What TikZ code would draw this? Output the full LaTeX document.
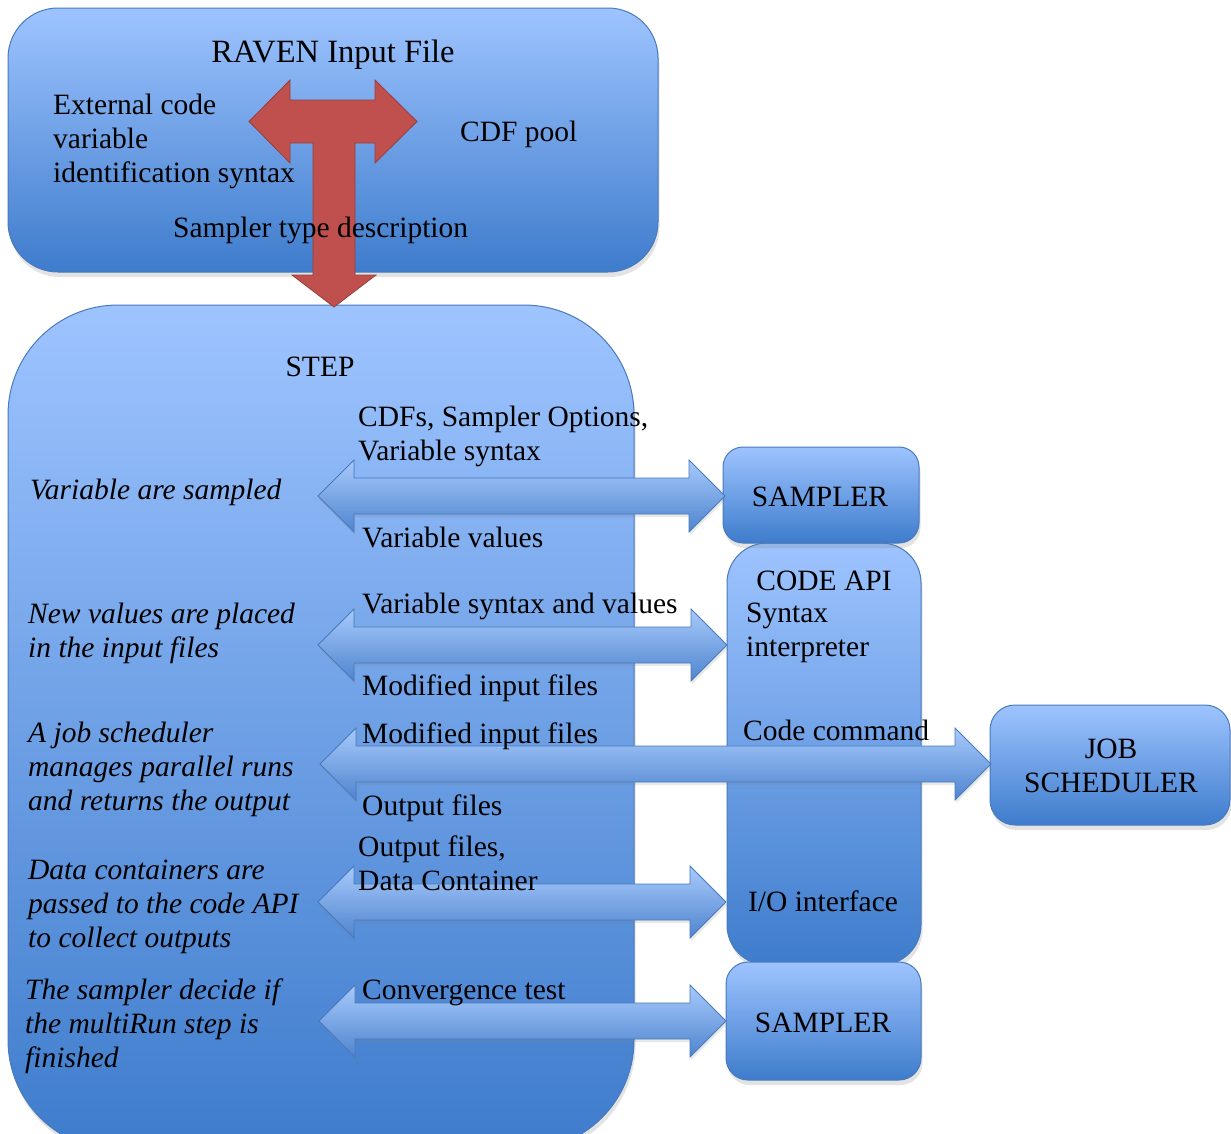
\documentclass[tikz,border=0pt]{standalone}
\usepackage{fontspec}
\setmainfont{Liberation Serif}
\usetikzlibrary{shadows}
\definecolor{boxtop}{RGB}{158,196,255}
\definecolor{boxbot}{RGB}{62,124,204}
\definecolor{boxline}{RGB}{72,122,188}
\definecolor{arrtop}{RGB}{168,202,252}
\definecolor{arrbot}{RGB}{78,132,206}
\definecolor{redfill}{RGB}{192,80,77}
\definecolor{redline}{RGB}{150,62,60}
\tikzset{
  box/.style={draw=boxline, line width=1pt, top color=boxtop, bottom color=boxbot,
    drop shadow={opacity=0.22, shadow xshift=1.5pt, shadow yshift=-5pt}},
  blockarr/.style={draw=boxline, line width=0.8pt, top color=arrtop, bottom color=arrbot,
    drop shadow={opacity=0.18, shadow xshift=1pt, shadow yshift=-3pt}},
  lbl/.style={inner sep=0pt, font=\fontsize{29.5}{34}\selectfont, align=left, text=black},
  ilbl/.style={inner sep=0pt, font=\fontsize{29.5}{34}\selectfont\itshape, align=left, text=black},
  clbl/.style={inner sep=0pt, font=\fontsize{29.5}{34}\selectfont, align=center, text=black},
}
% #1 left tip x, #2 right tip x, #3 centre y
\newcommand\dblarrow[3]{%
  \path[blockarr] (#1,#3) -- (#1+36,#3-36) -- (#1+36,#3-18) -- (#2-36,#3-18) -- (#2-36,#3-36)
    -- (#2,#3) -- (#2-36,#3+36) -- (#2-36,#3+18) -- (#1+36,#3+18) -- (#1+36,#3+36) -- cycle;}
\begin{document}
\begin{tikzpicture}[x=1pt,y=-1pt]
\useasboundingbox (0,0) rectangle (1231,1133);
\clip (0,0) rectangle (1231,1133);
\fill[white] (0,0) rectangle (1231,1133);
% boxes
\path[box, rounded corners=50pt] (8,8) rectangle (658,272);
\path[box, rounded corners=110pt] (8,305) rectangle (634,1150);
\path[box, rounded corners=40pt] (727,543) rectangle (921,965);
\path[box, rounded corners=20pt] (723,447) rectangle (919,543);
\path[box, rounded corners=25pt] (990,705) rectangle (1230,825);
\path[box, rounded corners=22pt] (726,962) rectangle (921,1080);
% red T arrow
\path[draw=redline, fill=redfill, line width=0.8pt]
  (249,121.5) -- (290,80) -- (290,100) -- (375,100) -- (375,80) -- (417,121.5)
  -- (375,163) -- (375,143) -- (355,143) -- (355,275) -- (376,275) -- (334,307)
  -- (292,275) -- (313,275) -- (313,143) -- (290,143) -- (290,163) -- cycle;
% block arrows
\dblarrow{318}{725}{496}
\dblarrow{318}{727}{645}
\dblarrow{320}{991}{764}
\dblarrow{318}{726}{902}
\dblarrow{319}{726}{1021}
% texts
\node[clbl, font=\fontsize{32.5}{34}\selectfont, anchor=base] (raven) at (333,62) {RAVEN Input File};
\node[lbl, anchor=north west] (extcode) at (53,94) {External code\\variable\\identification syntax};
\node[lbl, anchor=base west] (cdfpool) at (460,141) {CDF pool};
\node[lbl, anchor=base west] (samptype) at (173,237) {Sampler type description};
\node[clbl, anchor=base] (step) at (320,376) {STEP};
\node[lbl, anchor=north west] (cdfs) at (358,406) {CDFs, Sampler Options,\\Variable syntax};
\node[ilbl, anchor=base west] (varsamp) at (30,499) {Variable are sampled};
\node[lbl, anchor=base west] (varval) at (362,547) {Variable values};
\node[clbl, anchor=base] (sampler1) at (820,506) {SAMPLER};
\node[clbl, anchor=base] (codeapi) at (824,590) {CODE API};
\node[lbl, anchor=north west] (syntax) at (746,603) {Syntax\\interpreter};
\node[lbl, anchor=base west] (varsynval) at (362,613) {Variable syntax and values};
\node[ilbl, anchor=north west] (newval) at (28,603) {New values are placed\\in the input files};
\node[lbl, anchor=base west] (modin1) at (362,695) {Modified input files};
\node[ilbl, anchor=north west] (jobtxt) at (28,722) {A job scheduler\\manages parallel runs\\and returns the output};
\node[lbl, anchor=base west] (modin2) at (362,743) {Modified input files};
\node[lbl, anchor=base west] (codecmd) at (743,740) {Code command};
\node[clbl] (job) at (1111,766) {JOB\\SCHEDULER};
\node[lbl, anchor=base west] (outfiles) at (362,815) {Output files};
\node[lbl, anchor=north west] (outdc) at (358,836) {Output files,\\Data Container};
\node[ilbl, anchor=north west] (datacont) at (28,860) {Data containers are\\passed to the code API\\to collect outputs};
\node[clbl, anchor=base] (io) at (823,911) {I/O interface};
\node[ilbl, anchor=north west] (decide) at (25,979) {The sampler decide if\\the multiRun step is\\finished};
\node[lbl, anchor=base west] (conv) at (362,999) {Convergence test};
\node[clbl, anchor=base] (sampler2) at (823,1032) {SAMPLER};
\end{tikzpicture}
\end{document}
